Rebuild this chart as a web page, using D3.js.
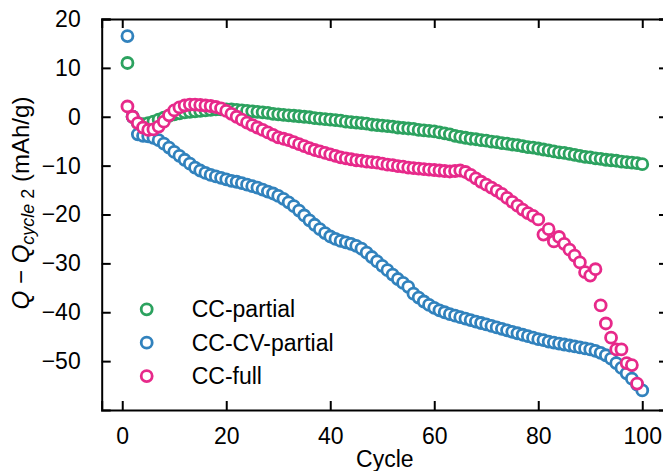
<!DOCTYPE html>
<html>
<head>
<meta charset="utf-8">
<script src="https://cdn.jsdelivr.net/npm/d3@7"></script>
<style>
  body { margin: 0; background: #fff; }
  svg { display: block; font-family: "Liberation Sans", Arial, sans-serif; }
</style>
</head>
<body>
<svg id="chart" width="663" height="471"></svg>
<script>
// Q - Q(cycle 2) in mAh/g, one value per cycle starting at cycle 1
const ccPartial = [
  11.0, 0, -1.3, -1.5, -1.3, -1.0, -0.6, -0.2, 0.2, 0.5,
  0.7, 0.9, 1.0, 1.1, 1.2, 1.3, 1.4, 1.5, 1.5, 1.5,
  1.5, 1.4, 1.3, 1.2, 1.1, 1.0, 0.9, 0.8, 0.6, 0.5,
  0.4, 0.3, 0.2, 0.1, 0.0, -0.1, -0.3, -0.4, -0.5, -0.6,
  -0.7, -0.8, -1.0, -1.1, -1.2, -1.3, -1.4, -1.6, -1.7, -1.8,
  -1.9, -2.0, -2.2, -2.3, -2.4, -2.5, -2.7, -2.8, -2.9, -3.0,
  -3.2, -3.4, -3.6, -3.9, -4.1, -4.3, -4.5, -4.6, -4.8, -4.9,
  -5.1, -5.2, -5.4, -5.5, -5.7, -5.8, -6.0, -6.2, -6.3, -6.5,
  -6.7, -6.9, -7.1, -7.3, -7.4, -7.6, -7.8, -8.0, -8.2, -8.3,
  -8.5, -8.6, -8.8, -8.9, -9.0, -9.2, -9.3, -9.4, -9.5, -9.7
];
const ccCvPartial = [
  16.5, 0, -3.6, -3.9, -4.0, -4.3, -4.8, -5.5, -6.3, -7.2,
  -8.0, -8.8, -9.6, -10.4, -11.0, -11.5, -11.9, -12.2, -12.5, -12.8,
  -13.1, -13.3, -13.6, -13.9, -14.2, -14.5, -14.9, -15.3, -15.7, -16.2,
  -16.8, -17.5, -18.3, -19.2, -20.2, -21.2, -22.1, -23.0, -23.8, -24.5,
  -25.0, -25.4, -25.7, -26.0, -26.4, -27.0, -27.8, -28.7, -29.6, -30.5,
  -31.4, -32.3, -33.2, -34.0, -34.8, -36.2, -37.0, -37.8, -38.5, -39.1,
  -39.6, -40.0, -40.4, -40.7, -41.0, -41.3, -41.6, -41.9, -42.2, -42.5,
  -42.8, -43.1, -43.4, -43.7, -44.0, -44.3, -44.6, -44.9, -45.2, -45.5,
  -45.7, -46.0, -46.2, -46.4, -46.6, -46.8, -47.0, -47.2, -47.4, -47.6,
  -47.9, -48.3, -48.8, -49.5, -50.4, -51.4, -52.5, -53.6, -54.8, -56.0
];
const ccFull = [
  2.1, 0, -1.3, -2.2, -2.7, -2.6, -2.0, -1.0, 0.3, 1.3,
  1.9, 2.3, 2.5, 2.5, 2.4, 2.3, 2.2, 2.0, 1.7, 1.2,
  0.6, 0.0, -0.6, -1.2, -1.7, -2.2, -2.7, -3.2, -3.7, -4.2,
  -4.5, -4.8, -5.2, -5.6, -6.0, -6.4, -6.8, -7.1, -7.4, -7.7,
  -8.0, -8.3, -8.5, -8.7, -8.9, -9.0, -9.2, -9.3, -9.4, -9.6,
  -9.8, -9.9, -10.1, -10.2, -10.4, -10.5, -10.6, -10.7, -10.8, -10.9,
  -11.0, -11.1, -11.2, -11.1, -11.0, -11.3, -11.9, -12.6, -13.3, -13.9,
  -14.5, -15.1, -15.8, -16.6, -17.4, -18.2, -19.0, -19.7, -20.3, -21.0,
  -24.1, -23.0, -25.5, -24.6, -26.0, -27.2, -28.4, -29.8, -31.8, -32.5,
  -31.2, -38.6, -42.3, -45.2, -47.6, -47.6, -50.4, -50.8, -54.6
];

const seriesNames = ["CC-partial", "CC-CV-partial", "CC-full"];
const seriesColors = ["#2ca25f", "#3182bd", "#e7298a"];
const xTicks = [0, 20, 40, 60, 80, 100];
const yTicks = [20, 10, 0, -10, -20, -30, -40, -50];

const svg = d3.select("#chart");
const plotL = 101.7, plotR = 668, plotT = 19, plotB = 410;
const fontSize = "23px";

const x = d3.scaleLinear().domain([-3.95, 104.95]).range([plotL, plotR]);
const y = d3.scaleLinear().domain([-60, 20]).range([plotB, plotT]);

// frame + inward ticks on all four sides
const fmt = d => (d < 0 ? "\u2212" + Math.abs(d) : d);

svg.append("g").attr("transform", `translate(0,${plotB})`)
  .call(d3.axisBottom(x).tickValues(xTicks).tickSize(-9).tickPadding(18).tickFormat(fmt));
svg.append("g").attr("transform", `translate(0,${plotT})`)
  .call(d3.axisTop(x).tickValues(xTicks).tickSize(-9).tickFormat(""));
svg.append("g").attr("transform", `translate(${plotL},0)`)
  .call(d3.axisLeft(y).tickValues(yTicks).tickSize(-9).tickPadding(21).tickFormat(fmt));
svg.append("g").attr("transform", `translate(${plotR},0)`)
  .call(d3.axisRight(y).tickValues(yTicks).tickSize(-9).tickFormat(""));

svg.selectAll(".domain").attr("stroke", "#000").attr("stroke-width", 2);
svg.selectAll(".tick line").attr("stroke", "#000").attr("stroke-width", 2);
svg.selectAll(".tick text").attr("fill", "#000").style("font-size", fontSize)
  .style("font-family", "Liberation Sans, Arial, sans-serif");

// markers: green, blue, pink in that order
const all = [ccPartial, ccCvPartial, ccFull];
all.forEach((vals, k) => {
  svg.append("g").selectAll("circle").data(vals).enter()
    .append("circle")
    .attr("cx", (d, i) => x(i + 1))
    .attr("cy", d => y(d))
    .attr("r", 5.5)
    .attr("fill", "#fff")
    .attr("stroke", seriesColors[k])
    .attr("stroke-width", 2.8);
});

// legend
const legend = svg.append("g");
seriesNames.forEach((name, k) => {
  const ly = 309.3 + k * 33.4;
  legend.append("circle").attr("cx", 146.7).attr("cy", ly).attr("r", 5.5)
    .attr("fill", "#fff").attr("stroke", seriesColors[k]).attr("stroke-width", 2.8);
  legend.append("text").attr("x", 191.7).attr("y", ly + 8)
    .style("font-size", fontSize).text(name);
});

// axis labels
svg.append("text").attr("x", (plotL + plotR) / 2).attr("y", 467)
  .attr("text-anchor", "middle").style("font-size", fontSize).text("Cycle");

const yl = svg.append("text")
  .attr("transform", "translate(29,203) rotate(-90)")
  .attr("text-anchor", "middle").style("font-size", "24px");
yl.append("tspan").style("font-style", "italic").text("Q");
yl.append("tspan").text(" \u2212 ");
yl.append("tspan").style("font-style", "italic").text("Q");
yl.append("tspan").attr("dy", 5).style("font-size", "18px").style("font-style", "italic").text("cycle");
yl.append("tspan").style("font-size", "18px").text(" 2");
yl.append("tspan").attr("dy", -5).text(" (mAh/g)");
</script>
</body>
</html>
